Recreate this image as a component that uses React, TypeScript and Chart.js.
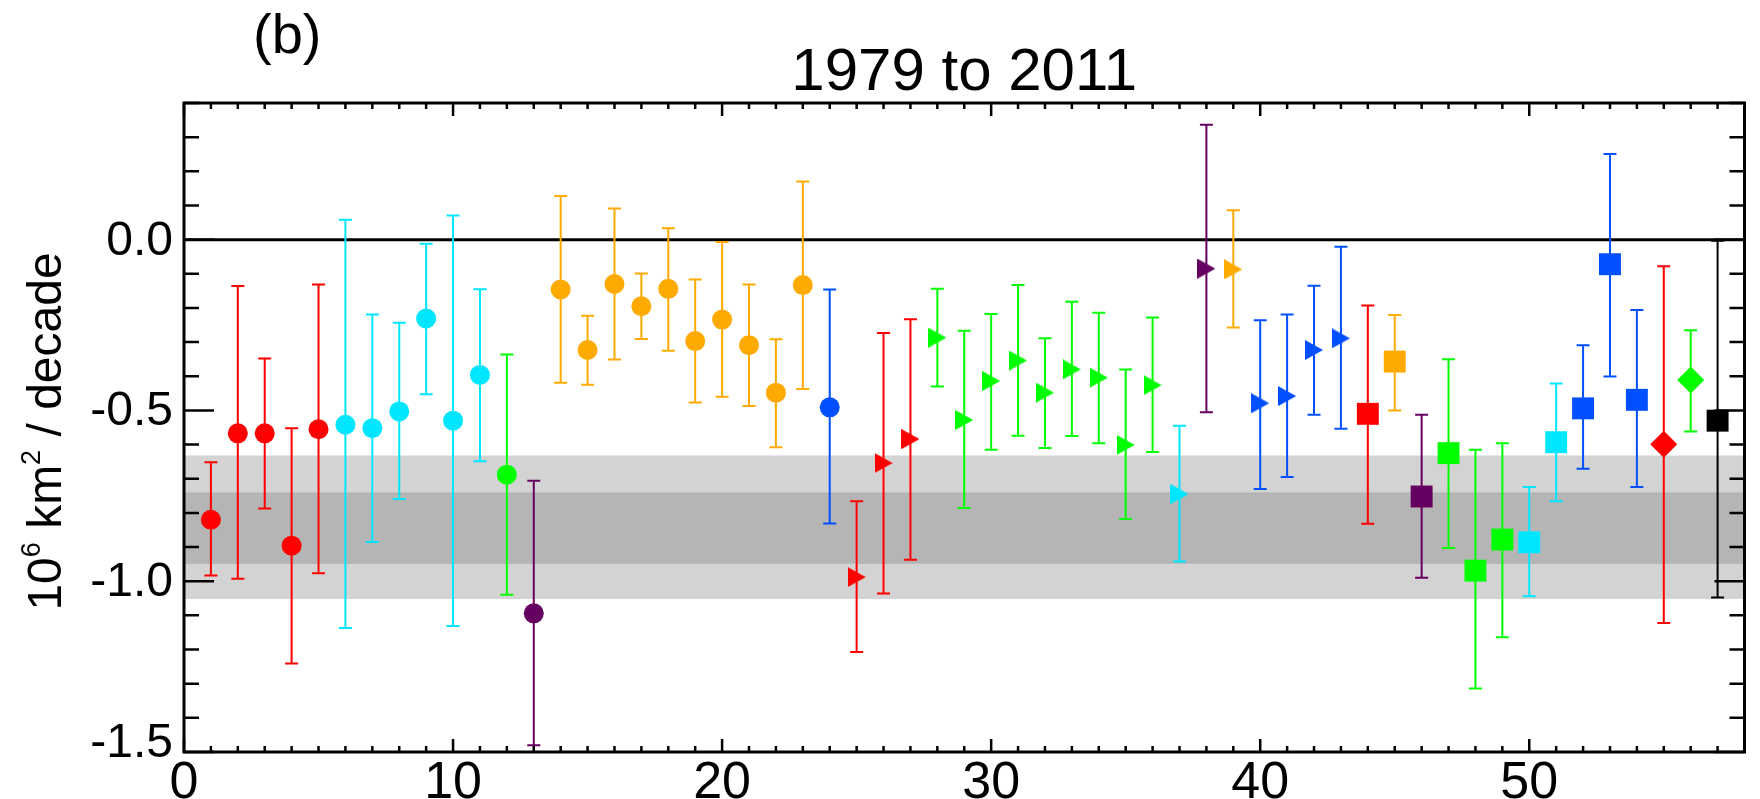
import React, { useEffect, useRef } from "react";
import { Chart, registerables } from "chart.js";

Chart.register(...registerables);

// ---------- data ----------
const positions = [
  1, 2, 3, 4, 5, 6, 7, 8, 9, 10, 11, 12, 13, 14, 15, 16, 17, 18, 19, 20,
  21, 22, 23, 24, 25, 26, 27, 28, 29, 30, 31, 32, 33, 34, 35, 36, 37, 38, 39, 40,
  41, 42, 43, 44, 45, 46, 47, 48, 49, 50, 51, 52, 53, 54, 55, 56, 57,
];

const trends = [
  -0.82, -0.567, -0.567, -0.896, -0.555,
  -0.542, -0.552, -0.503, -0.231, -0.53, -0.396,
  -0.688,
  -1.094,
  -0.146, -0.323, -0.13, -0.195, -0.144, -0.297, -0.234, -0.309, -0.448, -0.133,
  -0.491,
  -0.988, -0.654, -0.584,
  -0.287, -0.528, -0.414, -0.354, -0.448, -0.38, -0.404, -0.601, -0.426,
  -0.745,
  -0.085,
  -0.087,
  -0.479, -0.458, -0.323, -0.289,
  -0.51,
  -0.357,
  -0.752,
  -0.625, -0.969, -0.878,
  -0.886, -0.593,
  -0.494, -0.072, -0.469,
  -0.599,
  -0.411,
  -0.53,
];

const upperErr = [
  -0.652, -0.136, -0.348, -0.552, -0.131,
  0.058, -0.219, -0.243, -0.012, 0.071, -0.145,
  -0.336,
  -0.706,
  0.128, -0.223, 0.091, -0.099, 0.033, -0.117, -0.007, -0.131, -0.292, 0.17,
  -0.146,
  -0.766, -0.273, -0.233,
  -0.144, -0.267, -0.218, -0.133, -0.289, -0.182, -0.214, -0.38, -0.228,
  -0.545,
  0.336,
  0.086,
  -0.236, -0.219, -0.135, -0.021,
  -0.193,
  -0.221,
  -0.513,
  -0.35, -0.615, -0.596,
  -0.724, -0.421,
  -0.309, 0.251, -0.206,
  -0.078,
  -0.265,
  -0.003,
];

const lowerErr = [
  -0.983, -0.993, -0.787, -1.241, -0.977,
  -1.137, -0.885, -0.759, -0.453, -1.131, -0.649,
  -1.04,
  -1.48,
  -0.419, -0.425, -0.351, -0.291, -0.325, -0.477, -0.46, -0.487, -0.608, -0.437,
  -0.831,
  -1.207, -1.036, -0.937,
  -0.43, -0.786, -0.615, -0.574, -0.61, -0.575, -0.596, -0.818, -0.622,
  -0.942,
  -0.505,
  -0.257,
  -0.73, -0.695, -0.513, -0.554,
  -0.832,
  -0.5,
  -0.99,
  -0.903, -1.314, -1.164,
  -1.044, -0.766,
  -0.671, -0.401, -0.724,
  -1.122,
  -0.562,
  -1.048,
];

const colorGroups = [
  "red", "red", "red", "red", "red",
  "cyan", "cyan", "cyan", "cyan", "cyan", "cyan",
  "green",
  "purple",
  "orange", "orange", "orange", "orange", "orange", "orange", "orange", "orange", "orange", "orange",
  "blue",
  "red", "red", "red",
  "green", "green", "green", "green", "green", "green", "green", "green", "green",
  "cyan",
  "purple",
  "orange",
  "blue", "blue", "blue", "blue",
  "red",
  "orange",
  "purple",
  "green", "green", "green",
  "cyan", "cyan",
  "blue", "blue", "blue",
  "red",
  "green",
  "black",
];

const shapes = [
  "circle", "circle", "circle", "circle", "circle", "circle", "circle", "circle",
  "circle", "circle", "circle", "circle", "circle", "circle", "circle", "circle",
  "circle", "circle", "circle", "circle", "circle", "circle", "circle", "circle",
  "triangle", "triangle", "triangle", "triangle", "triangle", "triangle", "triangle",
  "triangle", "triangle", "triangle", "triangle", "triangle", "triangle", "triangle",
  "triangle", "triangle", "triangle", "triangle", "triangle",
  "square", "square", "square", "square", "square", "square", "square", "square",
  "square", "square", "square",
  "diamond", "diamond",
  "square",
];

const palette: Record<string, string> = {
  red: "#ff0000",
  cyan: "#00e6ff",
  green: "#00ff00",
  purple: "#650060",
  orange: "#ffaa00",
  blue: "#0050ff",
  black: "#000000",
};

const bandOuter = [-1.052, -0.632];
const bandInner = [-0.949, -0.74];
const zeroLine = 0;

const xRange = [0, 58];
const yRange = [-1.5, 0.4];
const xTickValues = [0, 10, 20, 30, 40, 50];
const xTickLabels = ["0", "10", "20", "30", "40", "50"];
const yTickValues = [0, -0.5, -1.0, -1.5];
const yTickLabels = ["0.0", "-0.5", "-1.0", "-1.5"];
const titleText = "1979 to 2011";
const panelLabel = "(b)";

const FONT = '"Liberation Sans", Arial, Helvetica, sans-serif';

function triangleImage(color: string) {
  const c = document.createElement("canvas");
  c.width = 18;
  c.height = 20;
  const g = c.getContext("2d")!;
  g.fillStyle = color;
  g.beginPath();
  g.moveTo(0, 0);
  g.lineTo(18, 10);
  g.lineTo(0, 20);
  g.closePath();
  g.fill();
  return c;
}

const decorPlugin = {
  id: "decor",
  beforeDatasetsDraw(chart: any) {
    const { ctx, chartArea: ca, scales } = chart;
    const x = scales.x;
    const y = scales.y;
    ctx.save();
    // bands
    ctx.fillStyle = "#d3d3d3";
    const o1 = y.getPixelForValue(bandOuter[1]);
    const o2 = y.getPixelForValue(bandOuter[0]);
    ctx.fillRect(ca.left, o1, ca.right - ca.left, o2 - o1);
    ctx.fillStyle = "#b5b5b5";
    const i1 = y.getPixelForValue(bandInner[1]);
    const i2 = y.getPixelForValue(bandInner[0]);
    ctx.fillRect(ca.left, i1, ca.right - ca.left, i2 - i1);
    // zero line
    ctx.strokeStyle = "#000";
    ctx.lineWidth = 3;
    const zy = y.getPixelForValue(zeroLine);
    ctx.beginPath();
    ctx.moveTo(ca.left, zy);
    ctx.lineTo(ca.right, zy);
    ctx.stroke();
    // error bars
    ctx.lineWidth = 2;
    for (let i = 0; i < positions.length; i++) {
      const px = x.getPixelForValue(positions[i]);
      const pt = y.getPixelForValue(upperErr[i]);
      const pb = y.getPixelForValue(lowerErr[i]);
      ctx.strokeStyle = palette[colorGroups[i]];
      ctx.beginPath();
      ctx.moveTo(px, pt);
      ctx.lineTo(px, pb);
      ctx.moveTo(px - 6.5, pt);
      ctx.lineTo(px + 6.5, pt);
      ctx.moveTo(px - 6.5, pb);
      ctx.lineTo(px + 6.5, pb);
      ctx.stroke();
    }
    ctx.restore();
  },
  afterDraw(chart: any) {
    const { ctx, chartArea: ca, scales } = chart;
    const x = scales.x;
    const y = scales.y;
    const L = ca.left, R = ca.right, T = ca.top, B = ca.bottom;
    ctx.save();
    ctx.strokeStyle = "#000";
    ctx.lineWidth = 3;
    ctx.strokeRect(L, T, R - L, B - T);
    ctx.lineWidth = 2.5;
    ctx.beginPath();
    for (let v = xRange[0]; v <= xRange[1]; v += 1) {
      const px = x.getPixelForValue(v);
      const len = v % 10 === 0 ? 13 : 6;
      ctx.moveTo(px, B);
      ctx.lineTo(px, B - len);
      ctx.moveTo(px, T);
      ctx.lineTo(px, T + len);
    }
    for (let k = -15; k <= 4; k++) {
      const py = y.getPixelForValue(k / 10);
      const len = k % 5 === 0 ? 30 : 15;
      ctx.moveTo(L, py);
      ctx.lineTo(L + len, py);
      ctx.moveTo(R, py);
      ctx.lineTo(R - len, py);
    }
    ctx.stroke();

    ctx.fillStyle = "#000";
    // y tick labels
    ctx.font = `48px ${FONT}`;
    ctx.textAlign = "right";
    ctx.textBaseline = "alphabetic";
    yTickValues.forEach((v, i) => {
      const py = y.getPixelForValue(v);
      const lift = i === yTickValues.length - 1 ? 10 : 0;
      ctx.fillText(yTickLabels[i], L - 11, py + 15 - lift);
    });
    // x tick labels
    ctx.font = `52px ${FONT}`;
    ctx.textAlign = "center";
    xTickValues.forEach((v, i) => {
      const px = x.getPixelForValue(v);
      ctx.fillText(xTickLabels[i], px, B + 46);
    });
    // title
    ctx.font = `60px ${FONT}`;
    ctx.textAlign = "center";
    ctx.fillText(titleText, (L + R) / 2, 90);
    // panel label
    ctx.font = `56px ${FONT}`;
    ctx.textAlign = "left";
    ctx.fillText(panelLabel, 253, 53);

    // y axis title (rotated)
    const parts = [
      { t: "10", sup: false },
      { t: "6", sup: true },
      { t: " km", sup: false },
      { t: "2", sup: true },
      { t: " / decade", sup: false },
    ];
    const mainFont = `48px ${FONT}`;
    const supFont = `27px ${FONT}`;
    let total = 0;
    const widths = parts.map((p) => {
      ctx.font = p.sup ? supFont : mainFont;
      const w = ctx.measureText(p.t).width;
      total += w;
      return w;
    });
    ctx.translate(61, (T + B) / 2 + 4);
    ctx.rotate(-Math.PI / 2);
    ctx.textAlign = "left";
    let cx = -total / 2;
    parts.forEach((p, i) => {
      ctx.font = p.sup ? supFont : mainFont;
      ctx.fillText(p.t, cx, p.sup ? -21 : 0);
      cx += widths[i];
    });
    ctx.restore();
  },
};

export default function App() {
  const ref = useRef<HTMLCanvasElement | null>(null);

  useEffect(() => {
    if (!ref.current) return;
    const triImgs: Record<string, HTMLCanvasElement> = {};
    Object.keys(palette).forEach((k) => {
      triImgs[k] = triangleImage(palette[k]);
    });
    const colors = colorGroups.map((g) => palette[g]);
    const styles = shapes.map((s, i) =>
      s === "circle" ? "circle" : s === "square" ? "rect" : s === "diamond" ? "rectRot" : triImgs[colorGroups[i]]
    );
    const radii = shapes.map((s) =>
      s === "circle" ? 10 : s === "square" ? 15.5 : s === "diamond" ? 13.5 : 10
    );
    const chart = new Chart(ref.current, {
      type: "scatter",
      data: {
        datasets: [
          {
            data: positions.map((p, i) => ({ x: p, y: trends[i] })),
            pointStyle: styles as any,
            pointRadius: radii,
            pointHoverRadius: radii,
            pointBackgroundColor: colors,
            pointBorderColor: colors,
            pointBorderWidth: 0,
            showLine: false,
            clip: false as any,
          },
        ],
      },
      options: {
        responsive: false,
        animation: false,
        devicePixelRatio: 1,
        events: [],
        layout: { padding: { left: 184, right: 10, top: 103, bottom: 47 } },
        scales: {
          x: { type: "linear", min: xRange[0], max: xRange[1], display: false },
          y: { type: "linear", min: yRange[0], max: yRange[1], display: false },
        },
        plugins: {
          legend: { display: false },
          tooltip: { enabled: false },
          title: { display: false },
        },
      },
      plugins: [decorPlugin],
    });
    return () => chart.destroy();
  }, []);

  return (
    <div style={{ position: "absolute", left: 0, top: 0, width: 1760, height: 799, background: "#fff" }}>
      <canvas ref={ref} width={1760} height={799} style={{ display: "block" }} />
    </div>
  );
}
